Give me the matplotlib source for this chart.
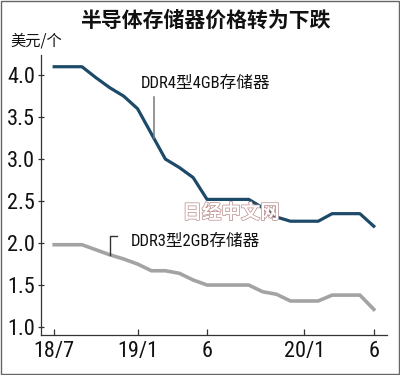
import matplotlib
matplotlib.use('Agg')
import matplotlib.pyplot as plt
import matplotlib.patheffects as pe
from matplotlib import font_manager

# months since 2018/7 (0 = 18/7, 23 = 20/6)
months = list(range(24))
ddr4 = [4.10, 4.10, 4.10, 3.97, 3.85, 3.75, 3.60, 3.30, 3.00, 2.90, 2.78, 2.52,
        2.52, 2.52, 2.52, 2.42, 2.31, 2.26, 2.26, 2.26, 2.35, 2.35, 2.35, 2.20]
ddr3 = [1.98, 1.98, 1.98, 1.92, 1.86, 1.81, 1.75, 1.67, 1.67, 1.64, 1.56, 1.50,
        1.50, 1.50, 1.50, 1.42, 1.39, 1.31, 1.31, 1.31, 1.38, 1.38, 1.38, 1.21]

x_ticks = [0, 6, 11, 18, 23]
x_labels = ['18/7', '19/1', '6', '20/1', '6']
y_ticks = [1.0, 1.5, 2.0, 2.5, 3.0, 3.5, 4.0]
y_labels = ['1.0', '1.5', '2.0', '2.5', '3.0', '3.5', '4.0']

installed = {f.name for f in font_manager.fontManager.ttflist}
narrow = 'Liberation Sans'
for cand in ['Roboto Condensed', 'Archivo Narrow', 'PT Sans Narrow',
             'Fira Sans Condensed', 'Liberation Sans Narrow']:
    if cand in installed:
        narrow = cand
        break
cjk = 'Noto Sans CJK SC'
plt.rcParams['font.family'] = [narrow, cjk, 'DejaVu Sans']

fig = plt.figure(figsize=(4, 3.75), dpi=100)
ax = fig.add_axes([0.1025, 0.1067, 0.865, 0.7467])

ax.plot(months, ddr4, color='#1d4a68', linewidth=2.3, solid_joinstyle='round')
ax.plot(months, ddr3, color='#a3a3a3', linewidth=2.6, solid_joinstyle='round')

ax.set_xlim(-0.95, 23.95)
ax.set_ylim(0.905, 4.24)

for s in ['top', 'right']:
    ax.spines[s].set_visible(False)
for s in ['left', 'bottom']:
    ax.spines[s].set_color('#333333')
    ax.spines[s].set_linewidth(0.9)

ax.set_xticks(x_ticks)
ax.set_xticklabels(x_labels)
ax.set_yticks(y_ticks)
ax.set_yticklabels(y_labels)
ax.tick_params(axis='x', direction='in', length=4, width=0.9, color='#333333',
               labelsize=16, pad=4, labelcolor='#111111')
ax.tick_params(axis='y', direction='inout', length=5, width=0.9, color='#333333',
               labelsize=16, pad=2, labelcolor='#111111')

# series labels with leader lines
ax.text(6.2, 3.9, 'DDR4型4GB存储器', fontsize=12, color='#111111',
        va='center', ha='left')
ax.plot([7.2, 7.2], [3.74, 3.25], color='#777777', linewidth=1.1)

ax.text(5.5, 2.02, 'DDR3型2GB存储器', fontsize=12, color='#111111',
        va='center', ha='left')
ax.plot([4.0, 4.0, 4.55], [1.86, 2.08, 2.08], color='#333333', linewidth=1.0)

# watermark
fig.text(0.578, 0.432, '日经中文网', fontsize=14, fontweight='heavy', family=cjk,
         color='white', ha='center', va='center',
         path_effects=[pe.Stroke(linewidth=1.0, foreground='#b98c8c'), pe.Normal()])

fig.text(0.512, 0.947, '半导体存储器价格转为下跌', fontsize=15, fontweight='bold',
         family=cjk, ha='center', va='center', color='#111111')
fig.text(0.025, 0.89, '美元/个', fontsize=11, family=cjk, ha='left', va='center',
         color='#111111')

# frame around the whole picture
fig.patches.append(plt.Rectangle((0.002, 0.003), 0.995, 0.994, transform=fig.transFigure,
                                 fill=False, edgecolor='#666666', linewidth=1.0))

fig.savefig('out.png', dpi=100)
